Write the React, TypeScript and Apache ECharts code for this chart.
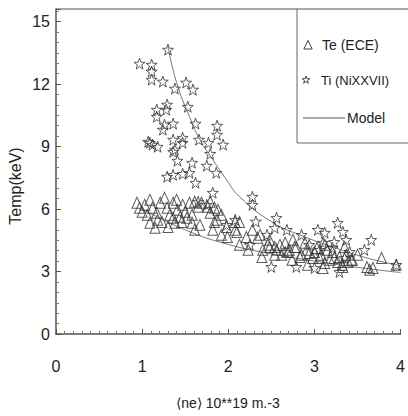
import React, { useEffect, useRef } from "react";
import * as echarts from "echarts";

// Te (ECE) measurements: [ne (1e19 m^-3), Te (keV)]
const teECE: number[][] = [
  [0.94, 6.3], [1.03, 6.2], [1.0, 5.87], [1.09, 6.44], [1.12, 6.06], [1.17, 5.82], [1.21, 6.3],
  [1.26, 6.54], [1.29, 6.06], [1.32, 5.72], [1.36, 6.3], [1.4, 6.44], [1.41, 5.96], [1.47, 6.2],
  [1.55, 6.3], [1.61, 6.35], [1.69, 6.3], [1.09, 5.34], [1.15, 5.1], [1.23, 5.38], [1.3, 5.14],
  [1.38, 5.34], [1.36, 5.58], [1.46, 5.38], [1.52, 5.58], [1.58, 5.34], [1.61, 5.0], [1.67, 5.24],
  [1.44, 5.63], [1.58, 5.72], [0.97, 6.06], [1.06, 5.72], [1.18, 5.48], [1.5, 5.87], [1.79, 6.35],
  [1.84, 6.06], [1.79, 5.82], [1.87, 5.48], [1.82, 5.0], [1.92, 4.76], [1.99, 4.66], [2.08, 5.0],
  [2.13, 4.28], [2.23, 4.04], [2.21, 4.66], [2.28, 5.0], [2.34, 4.62], [2.4, 4.04], [2.39, 3.7],
  [2.46, 4.28], [2.54, 4.18], [2.54, 3.8], [2.62, 3.8], [2.66, 4.38], [2.69, 3.94], [2.74, 3.56],
  [2.79, 4.18], [2.85, 3.8], [2.91, 4.04], [2.98, 3.65], [3.03, 4.13], [3.08, 3.8], [3.12, 3.41],
  [3.18, 3.56], [3.21, 3.94], [3.29, 3.7], [3.32, 3.32], [3.35, 4.18], [3.37, 3.8], [3.44, 3.56],
  [3.61, 3.22], [3.68, 3.17], [3.78, 3.65], [3.95, 3.32], [1.65, 6.11], [1.76, 6.11], [1.88, 5.96],
  [1.84, 5.38], [1.92, 5.72], [1.98, 5.14], [2.08, 5.38], [2.13, 5.38], [2.1, 4.9], [2.37, 4.76],
  [2.48, 4.18], [2.56, 4.04], [2.77, 4.18], [2.75, 4.52], [2.83, 3.7], [2.94, 3.89], [3.06, 3.65],
  [3.33, 3.22], [3.43, 3.56], [3.64, 3.08], [2.92, 3.32], [3.1, 3.17], [2.48, 4.52], [2.6, 4.28],
  [2.71, 4.04], [2.89, 4.38], [3.0, 3.94], [3.15, 4.04], [3.27, 3.46], [3.39, 3.46], [3.5, 3.8],
  [3.23, 3.65], [3.12, 4.28],
];

// Ti (NiXXVII) measurements: [ne, Ti]
const tiNiXXVII: number[][] = [
  [1.3, 13.65], [0.97, 12.98], [1.11, 12.93], [1.11, 12.6], [1.11, 12.21], [1.24, 12.12],
  [1.38, 11.78], [1.51, 12.07], [1.59, 11.73], [1.29, 11.01], [1.17, 10.77], [1.28, 10.77],
  [1.53, 10.91], [1.17, 10.43], [1.26, 10.05], [1.36, 10.1], [1.24, 9.81], [1.62, 10.1],
  [1.87, 10.0], [1.87, 9.57], [1.09, 9.18], [1.18, 8.99], [1.12, 9.09], [1.07, 9.23],
  [1.36, 9.33], [1.47, 9.42], [1.47, 9.18], [1.66, 9.33], [1.77, 9.18], [1.94, 9.09],
  [1.36, 8.75], [1.38, 8.85], [1.41, 8.32], [1.58, 8.22], [1.79, 8.65], [1.75, 8.08],
  [1.86, 7.74], [1.29, 7.55], [1.36, 7.64], [1.47, 7.69], [1.55, 7.74], [1.62, 7.26],
  [1.82, 6.78], [2.28, 6.59], [2.28, 6.2], [1.65, 6.35], [1.75, 6.2], [2.08, 5.48],
  [1.98, 5.24], [2.32, 5.4], [2.56, 5.58], [2.54, 5.1], [2.45, 4.76], [2.68, 5.0],
  [2.25, 4.28], [2.85, 4.76], [3.04, 5.0], [3.12, 4.86], [3.27, 5.34], [3.33, 4.9],
  [3.37, 4.52], [3.1, 4.38], [3.23, 4.42], [3.21, 4.13], [3.41, 3.94], [3.66, 4.52],
  [3.58, 4.04], [2.79, 3.22], [3.0, 3.17], [3.29, 2.98], [2.5, 3.22], [2.94, 4.28],
  [3.06, 4.04], [3.35, 3.65], [2.66, 3.94], [3.95, 3.32],
];

// Model curves
const modelTi: number[][] = [
  [1.3, 13.8], [1.4, 12.07], [1.55, 10.43], [1.67, 9.33], [1.82, 8.37], [1.98, 7.4],
  [2.13, 6.59], [2.52, 5.34], [2.83, 4.76], [3.21, 4.18], [3.61, 3.65], [4.0, 3.28],
];
const modelTe: number[][] = [
  [1.0, 6.0], [1.5, 5.0], [2.0, 4.3], [2.5, 3.85], [3.0, 3.5], [3.5, 3.2], [4.0, 2.95],
];

const xTicks = [0, 1, 2, 3, 4];
const yTicks = [0, 3, 6, 9, 12, 15];

const FONT = "'Liberation Sans', Arial, Helvetica, sans-serif";
const INK = "#222";
const STAR =
  "path://M0,-100L23.5,-32.4L95.1,-30.9L38,12.4L58.8,80.9L0,40L-58.8,80.9L-38,12.4L-95.1,-30.9L-23.5,-32.4Z";

export default function App() {
  const ref = useRef<HTMLDivElement>(null);
  useEffect(() => {
    if (!ref.current) return;
    const chart = echarts.init(ref.current, undefined, { renderer: "svg" });
    const starPts = (cx: number, cy: number, r: number) => {
      const pts: number[][] = [];
      for (let i = 0; i < 10; i++) {
        const a = -Math.PI / 2 + (i * Math.PI) / 5;
        const rr = i % 2 === 0 ? r : r * 0.4;
        pts.push([cx + rr * Math.cos(a), cy + rr * Math.sin(a)]);
      }
      return pts;
    };
    chart.setOption({
      animation: false,
      backgroundColor: "#ffffff",
      grid: { left: 56, right: 7, top: 9, bottom: 82 },
      xAxis: {
        type: "value",
        min: xTicks[0],
        max: xTicks[xTicks.length - 1],
        interval: 1,
        axisLine: { lineStyle: { color: "#555", width: 1.5 } },
        axisTick: { inside: true, length: 5, lineStyle: { color: "#555" } },
        minorTick: { show: true, splitNumber: 10, length: 3, lineStyle: { color: "#777" } },
        splitLine: { show: false },
        axisLabel: { margin: 24, fontSize: 16, fontFamily: FONT, color: INK },
      },
      yAxis: {
        type: "value",
        min: 0,
        max: 15.6,
        interval: 3,
        axisLine: { show: true, lineStyle: { color: "#555", width: 1.5 } },
        axisTick: { show: true, inside: true, length: 5, lineStyle: { color: "#555" } },
        minorTick: { show: true, splitNumber: 6, length: 3, lineStyle: { color: "#777" } },
        splitLine: { show: false },
        axisLabel: {
          margin: 6,
          fontSize: 16,
          fontFamily: FONT,
          color: INK,
          formatter: (v: number) => (yTicks.includes(v) ? String(v) : ""),
        },
      },
      series: [
        {
          name: "Model Ti",
          type: "line",
          data: modelTi,
          smooth: true,
          showSymbol: false,
          lineStyle: { color: "#777", width: 1 },
          z: 1,
        },
        {
          name: "Model Te",
          type: "line",
          data: modelTe,
          smooth: true,
          showSymbol: false,
          lineStyle: { color: "#777", width: 1 },
          z: 1,
        },
        {
          name: "Te (ECE)",
          type: "scatter",
          data: teECE,
          symbol: "triangle",
          symbolSize: [10, 11],
          itemStyle: { color: "rgba(0,0,0,0)", borderColor: "#333", borderWidth: 1 },
          z: 2,
        },
        {
          name: "Ti (NiXXVII)",
          type: "scatter",
          data: tiNiXXVII,
          symbol: STAR,
          symbolSize: 11,
          itemStyle: { color: "rgba(0,0,0,0)", borderColor: "#333", borderWidth: 1 },
          z: 3,
        },
      ],
      graphic: [
        { type: "line", shape: { x1: 56, y1: 9, x2: 408, y2: 9 }, style: { stroke: "#555", lineWidth: 1.2 } },
        {
          type: "polyline",
          shape: { points: [[297, 9], [297, 143], [408, 143]] },
          style: { stroke: "#666", lineWidth: 1, fill: "none" },
        },
        {
          type: "polygon",
          shape: { points: [[308, 40.5], [303.8, 49], [312.2, 49]] },
          style: { stroke: "#444", fill: "none", lineWidth: 1 },
        },
        {
          type: "polygon",
          shape: { points: starPts(306, 80, 4) },
          style: { stroke: "#444", fill: "none", lineWidth: 1 },
        },
        { type: "line", shape: { x1: 303, y1: 118, x2: 345, y2: 118 }, style: { stroke: "#555", lineWidth: 1 } },
        {
          type: "text",
          x: 322,
          y: 45,
          style: { text: "Te (ECE)", font: `14px ${FONT}`, fill: INK, textVerticalAlign: "middle" },
        },
        {
          type: "text",
          x: 321,
          y: 80,
          style: { text: "Ti (NiXXVII)", font: `13px ${FONT}`, fill: INK, textVerticalAlign: "middle" },
        },
        {
          type: "text",
          x: 347,
          y: 118,
          style: { text: "Model", font: `14px ${FONT}`, fill: INK, textVerticalAlign: "middle" },
        },
        {
          type: "text",
          x: 15,
          y: 186,
          rotation: Math.PI / 2,
          style: {
            text: "Temp(keV)",
            font: `16px ${FONT}`,
            fill: INK,
            textAlign: "center",
            textVerticalAlign: "middle",
          },
        },
        {
          type: "text",
          x: 228,
          y: 403,
          style: {
            text: "⟨ne⟩ 10**19 m.-3",
            font: `14px ${FONT}`,
            fill: INK,
            textAlign: "center",
            textVerticalAlign: "middle",
          },
        },
      ],
    });
    return () => chart.dispose();
  }, []);
  return (
    <div
      ref={ref}
      style={{ position: "fixed", left: 0, top: 0, width: 408, height: 416, background: "#fff" }}
    />
  );
}
